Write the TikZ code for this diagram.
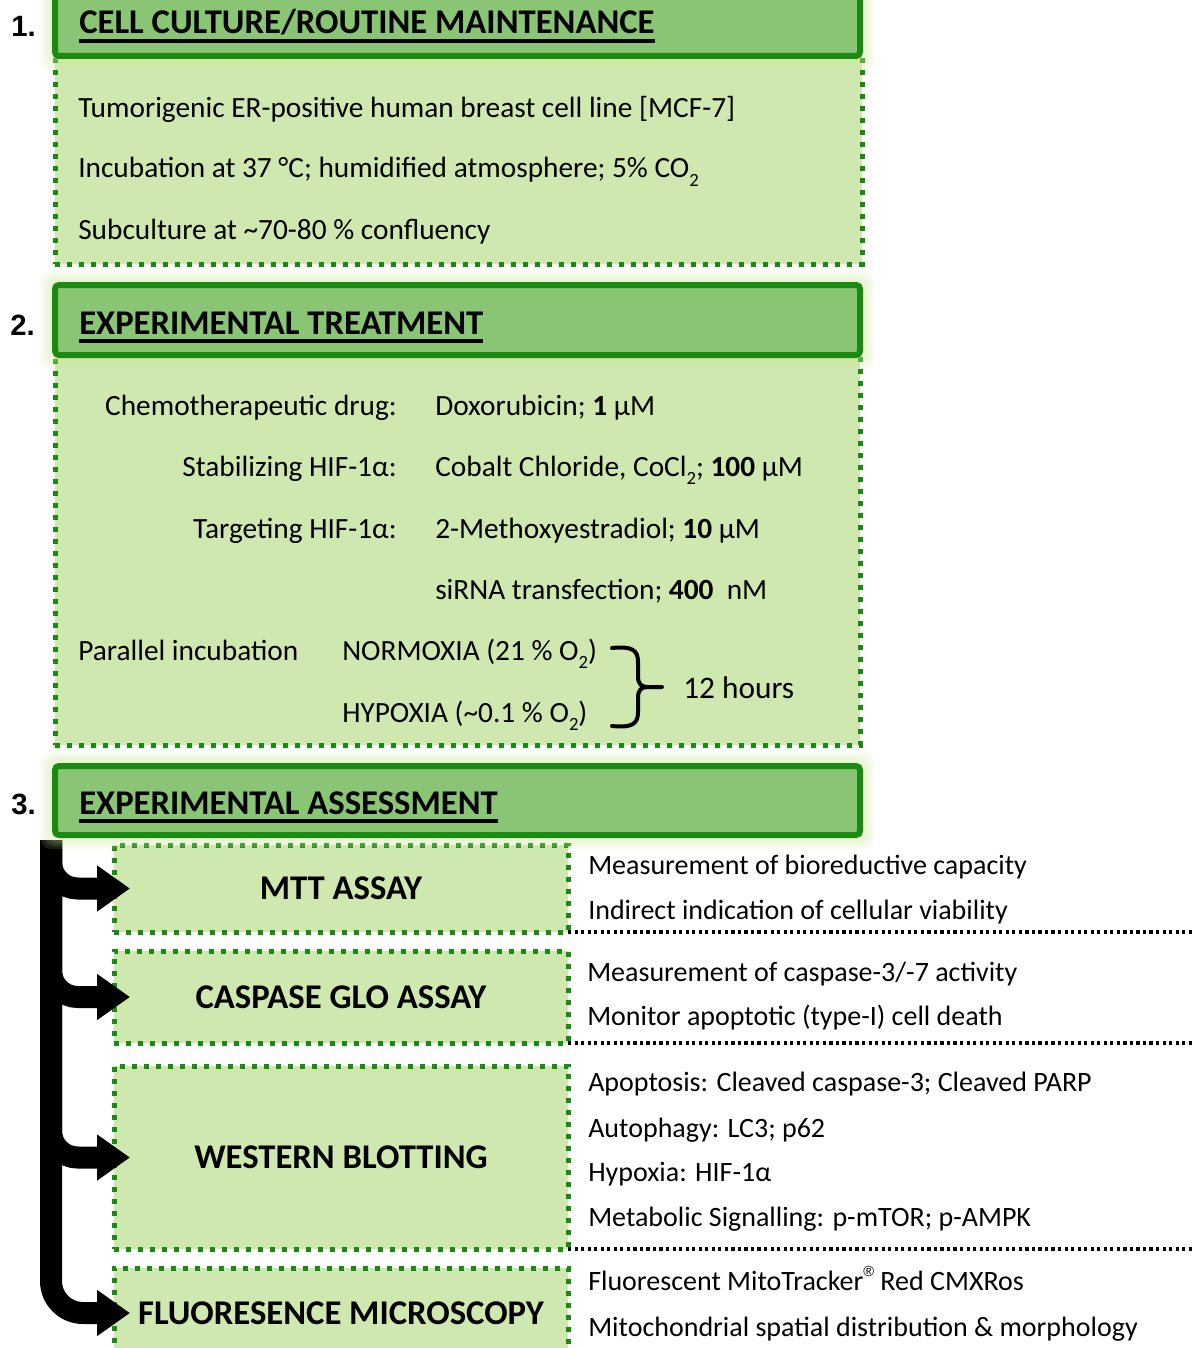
\documentclass[tikz,border=0pt]{standalone}
\usepackage{fontspec}
\setmainfont{Carlito}
\newfontfamily\numfont{Liberation Sans}
\usetikzlibrary{arrows.meta}
\definecolor{hdrfill}{RGB}{137,197,116}
\definecolor{hdrline}{RGB}{26,138,18}
\definecolor{bodyfill}{RGB}{206,232,176}
\definecolor{glowc}{RGB}{205,236,150}
\newcommand\sbtwo{\raisebox{-0.6ex}{\fontsize{14pt}{14pt}\selectfont 2}}
\newcommand\hdul[1]{\setbox0=\hbox{#1}\rlap{\rule[-6.5pt]{\wd0}{2.4pt}}\box0}
\newcommand\regmark{\raisebox{1.0ex}{\numfont\fontsize{11pt}{11pt}\selectfont ®}}
\newcommand\bodyfnt{\fontsize{22pt}{26pt}\selectfont}
\newcommand\rightfnt{\fontsize{21pt}{25pt}\selectfont}
\newcommand\hrsfnt{\fontsize{23.5pt}{27pt}\selectfont}
\newcommand\hdrfnt{\fontsize{26pt}{30pt}\selectfont\bfseries}
\newcommand\ttlfnt{\fontsize{26pt}{30pt}\selectfont\bfseries}
\newcommand\numfnt{\numfont\fontsize{22pt}{26pt}\selectfont\bfseries}
\begin{document}
\begin{tikzpicture}[x=0.75pt,y=-0.75pt,
  hdr/.style={draw=hdrline, line width=4.5pt, fill=hdrfill, rounded corners=3pt,
    anchor=north west, inner sep=0pt, outer sep=0pt},
  bodybox/.style={draw=hdrline, line width=3.75pt, dash pattern=on 3.75pt off 5.25pt,
    fill=bodyfill, anchor=north west, inner sep=0pt, outer sep=0pt},
  abox/.style={bodybox, font=\ttlfnt, align=center},
  txt/.style={anchor=base west, inner sep=0pt, font=\bodyfnt},
  rtxt/.style={anchor=base west, inner sep=0pt, font=\rightfnt},
  lbl/.style={anchor=base east, inner sep=0pt, font=\bodyfnt},
  htxt/.style={anchor=base west, inner sep=0pt, font=\hdrfnt},
  numtxt/.style={anchor=base west, inner sep=0pt, font=\numfnt},
  bigarrow/.style={line width=16.5pt, -{Triangle[length=24.75pt,width=33pt]},
    rounded corners=20pt},
  blackdots/.style={line width=2.4pt, dash pattern=on 2.4pt off 2.5pt},
  bracestyle/.style={line width=3pt, line cap=round}
]
\useasboundingbox (0,0) rectangle (1192,1348);
\clip (0,0) rectangle (1192,1348);
\fill[white] (0,0) rectangle (1192,1348);

% section bodies
\node[bodybox, minimum width=605.25pt, minimum height=156pt] (b1) at (55,56) {};
\node[bodybox, minimum width=603.75pt, minimum height=292.5pt] (b2) at (55,355) {};

% section 3 boxes
\node[abox, minimum width=340.5pt, minimum height=65.25pt] (mtt) at (114,845) {MTT ASSAY};
\node[abox, minimum width=340.5pt, minimum height=69pt] (casp) at (114,951) {CASPASE GLO ASSAY};
\node[abox, minimum width=340.5pt, minimum height=137.25pt] (wb) at (114,1066) {WESTERN BLOTTING};
\node[abox, minimum width=340.5pt, minimum height=67.5pt] (fm) at (114,1268) {FLUORESENCE MICROSCOPY};

% right dotted separators
\coordinate (redge) at (1192,0);
\draw[blackdots] (mtt.south east) -- (mtt.south east -| redge);
\draw[blackdots] (casp.south east) -- (casp.south east -| redge);
\draw[blackdots] (wb.south east) -- (wb.south east -| redge);

% arrows
\coordinate (stem) at (51,840);
\draw[bigarrow, rounded corners=24pt] (stem) |- ([xshift=12pt]fm.west);
\draw[bigarrow] (stem) |- ([xshift=12pt]wb.west);
\draw[bigarrow] (stem) |- ([xshift=12pt]casp.west);
\draw[bigarrow] (stem) |- ([xshift=12pt]mtt.west);

% glows
\foreach \ya/\yb in {-14/56,285/355,766/835}{
  \foreach \g in {14,11,8,5,2}{
    \fill[glowc, opacity=0.14, rounded corners=8pt] ({55-\g},{\ya-\g}) rectangle ({860+\g},{\yb+\g});
  }
}

% headers
\node[hdr, minimum width=603.75pt, minimum height=52.5pt] (h1) at (55,-14) {};
\node[hdr, minimum width=603.75pt, minimum height=52.5pt] (h2) at (55,285) {};
\node[hdr, minimum width=603.75pt, minimum height=51.75pt] (h3) at (55,766) {};

\node[htxt] (h1t) at (79,34) {\hdul{CELL CULTURE/ROUTINE MAINTENANCE}};
\node[htxt] (h2t) at (79,334) {\hdul{EXPERIMENTAL TREATMENT}};
\node[htxt] (h3t) at (79,814) {\hdul{EXPERIMENTAL ASSESSMENT}};

\node[numtxt] (n1) at (11,37) {1.};
\node[numtxt] (n2) at (10,335) {2.};
\node[numtxt] (n3) at (11,814) {3.};

% section 1 text
\node[txt] (t11) at (78,118) {Tumorigenic ER-positive human breast cell line [MCF-7]};
\node[txt] (t12) at (78,178) {Incubation at 37 °C; humidified atmosphere; 5\% CO\sbtwo};
\node[txt] (t13) at (78,240) {Subculture at \textasciitilde70-80 \% confluency};

% section 2 text
\node[lbl] (l1) at (397,415) {Chemotherapeutic drug:};
\node[lbl] (l2) at (397,476) {Stabilizing HIF-1α:};
\node[lbl] (l3) at (397,538) {Targeting HIF-1α:};
\node[txt] (r1) at (435,415) {Doxorubicin; \textbf{1} µM};
\node[txt] (r2) at (435,476) {Cobalt Chloride, CoCl\sbtwo; \textbf{100} µM};
\node[txt] (r3) at (435,538) {2-Methoxyestradiol; \textbf{10} µM};
\node[txt] (r4) at (435,599) {siRNA transfection; \textbf{400}\ \ nM};
\node[txt] (pi) at (78,660) {Parallel incubation};
\node[txt] (nx) at (342,660) {NORMOXIA (21 \% O\sbtwo)};
\node[txt] (hx) at (342,722) {HYPOXIA (\textasciitilde0.1 \% O\sbtwo)};
\draw[bracestyle] (612,648) .. controls (632,646) and (638,650) .. (638,662) -- (638,676)
  .. controls (638,684) and (641,687) .. (648,687) -- (662,687);
\draw[bracestyle] (612,726) .. controls (632,728) and (638,724) .. (638,712) -- (638,698)
  .. controls (638,690) and (641,687) .. (648,687);
\node[anchor=base west, inner sep=0pt, font=\hrsfnt] (hrs) at (683,698) {12 hours};

% section 3 right text
\node[rtxt] (m1) at (588,874) {Measurement of bioreductive capacity};
\node[rtxt] (m2) at (588,919) {Indirect indication of cellular viability};
\node[rtxt] (c1) at (587,981) {Measurement of caspase-3/-7 activity};
\node[rtxt] (c2) at (587,1025) {Monitor apoptotic (type-I) cell death};
\node[rtxt] (w1) at (588,1091) {Apoptosis: Cleaved caspase-3; Cleaved PARP};
\node[rtxt] (w2) at (588,1137) {Autophagy: LC3; p62};
\node[rtxt] (w3) at (588,1181) {Hypoxia: HIF-1α};
\node[rtxt] (w4) at (588,1226) {Metabolic Signalling: p-mTOR; p-AMPK};
\node[rtxt] (f1) at (588,1290) {Fluorescent MitoTracker\regmark{} Red CMXRos};
\node[rtxt] (f2) at (588,1336) {Mitochondrial spatial distribution \& morphology};
\end{tikzpicture}
\end{document}
